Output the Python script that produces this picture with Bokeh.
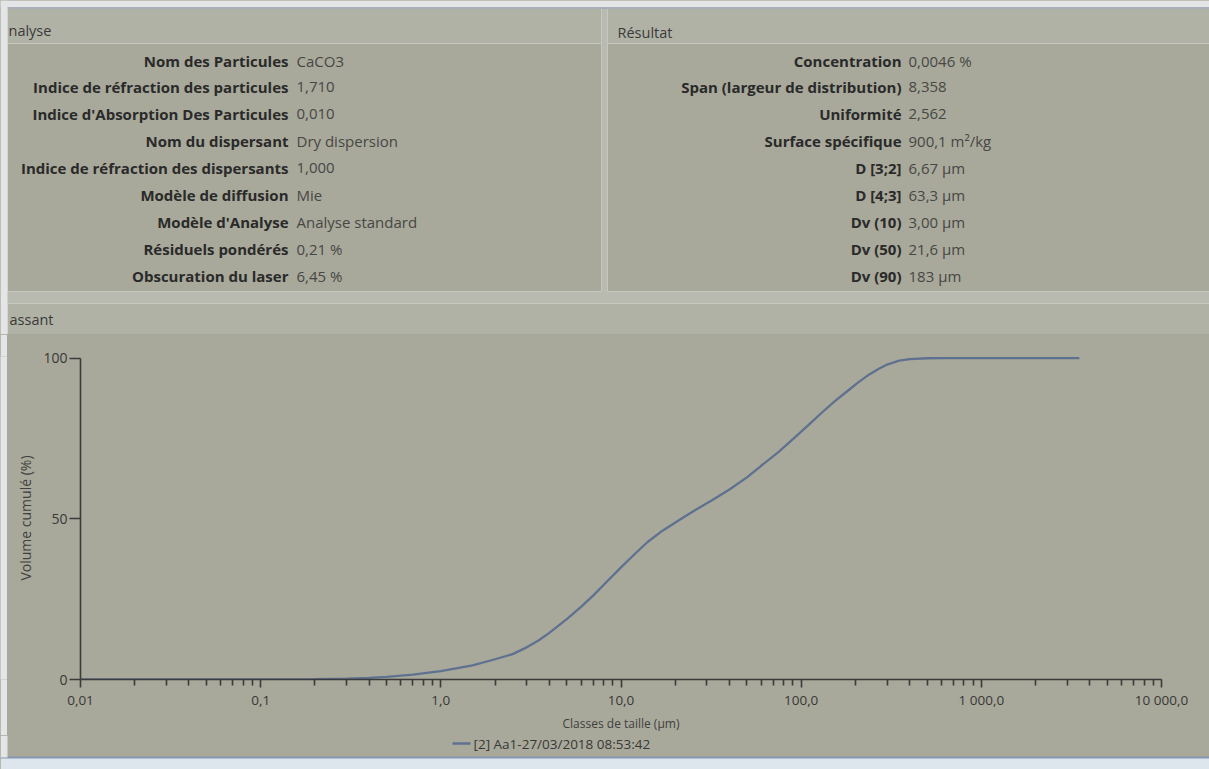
import json
import math

from bokeh.core.properties import value
from bokeh.embed import file_html
from bokeh.layouts import column, row
from bokeh.models import CustomJSTickFormatter, FixedTicker, Range1d
from bokeh.plotting import figure
from bokeh.resources import INLINE

FONT = "Open Sans"

# ---- measurement parameters ("Analyse" panel) ----
analyse_labels = [
    "Nom des Particules",
    "Indice de réfraction des particules",
    "Indice d'Absorption Des Particules",
    "Nom du dispersant",
    "Indice de réfraction des dispersants",
    "Modèle de diffusion",
    "Modèle d'Analyse",
    "Résiduels pondérés",
    "Obscuration du laser",
]
analyse_values = [
    "CaCO3", "1,710", "0,010", "Dry dispersion", "1,000",
    "Mie", "Analyse standard", "0,21 %", "6,45 %",
]

# ---- results ("Résultat" panel) ----
resultat_labels = [
    "Concentration",
    "Span (largeur de distribution)",
    "Uniformité",
    "Surface spécifique",
    "D [3;2]",
    "D [4;3]",
    "Dv (10)",
    "Dv (50)",
    "Dv (90)",
]
resultat_values = [
    "0,0046 %", "8,358", "2,562", "900,1 m²/kg", "6,67 µm",
    "63,3 µm", "3,00 µm", "21,6 µm", "183 µm",
]

# panel captions as they appear on the screen edge
panel_titles = ["nalyse", "Résultat", "assant"]

# ---- cumulative volume curve (passing) ----
sizes_um = [
    0.01, 0.02, 0.05, 0.1, 0.15, 0.2, 0.3, 0.4, 0.5, 0.7,
    1.0, 1.5, 2.0, 2.5, 3.0, 3.5, 4.0, 5.0, 6.0, 7.0,
    8.0, 10.0, 12.0, 14.0, 17.0, 21.6, 26.0, 32.0, 40.0, 50.0,
    60.0, 75.0, 90.0, 110.0, 130.0, 155.0, 183.0, 210.0, 240.0, 270.0,
    300.0, 350.0, 400.0, 500.0, 600.0, 1000.0, 2000.0, 3500.0,
]
volume_pct = [
    0.0, 0.0, 0.0, 0.0, 0.03, 0.08, 0.25, 0.5, 0.8, 1.5,
    2.6, 4.4, 6.3, 7.9, 10.0, 12.2, 14.5, 18.8, 22.6, 26.1,
    29.4, 34.9, 39.2, 42.7, 46.3, 50.0, 52.8, 55.8, 59.1, 62.9,
    66.5, 70.8, 74.8, 79.2, 83.0, 86.8, 90.0, 92.7, 95.0, 96.7,
    98.0, 99.2, 99.7, 99.95, 100.0, 100.0, 100.0, 100.0,
]
series_name = "[2] Aa1-27/03/2018 08:53:42"

x_tick_values = [0.01, 0.1, 1.0, 10.0, 100.0, 1000.0, 10000.0]
x_tick_labels = ["0,01", "0,1", "1,0", "10,0", "100,0", "1 000,0", "10 000,0"]
y_tick_values = [0, 50, 100]

# ---- colours ----
PANEL = "#a8a99a"
HEADER = "#b1b2a6"
GAP = "#b9bab0"
EDGE = "#c6c7be"
PAPER = "#e3e5e6"
INK = "#2a2a2a"
INK_LIGHT = "#474745"
CURVE = "#5f7190"

W = 1209
TOP_H = 334
BOT_H = 34
MID_H = 769 - TOP_H - BOT_H
LEFT_STRIP = 7
FRAME_TOP = 356
FRAME_H = 323
MID_Y0 = TOP_H + MID_H  # page y where the bottom strip starts


def blank(width, height, y_top, y_bottom, bg):
    f = figure(width=width, height=height, output_backend="svg",
               toolbar_location=None, x_range=Range1d(0, width),
               y_range=Range1d(y_bottom, y_top), min_border=0,
               background_fill_color=bg, border_fill_color=bg)
    f.axis.visible = False
    f.grid.visible = False
    f.outline_line_color = None
    return f


# ================= top: two information panels =================
top = blank(W, TOP_H, 0, TOP_H, GAP)

# panel frames
top.quad(left=[LEFT_STRIP, 607], right=[601, W], top=[8, 8], bottom=[43, 43],
         fill_color=HEADER, line_color=EDGE, line_width=1)
top.quad(left=[LEFT_STRIP, 607], right=[601, W], top=[43, 43], bottom=[291, 291],
         fill_color=PANEL, line_color=EDGE, line_width=1)
top.quad(left=[LEFT_STRIP], right=[W], top=[303], bottom=[TOP_H + 2],
         fill_color=HEADER, line_color=EDGE, line_width=1)

# panel titles
top.text(x=[8, 617, 9], y=[30, 32, 319], text=panel_titles,
         text_font=value(FONT), text_font_size="14.5px", text_color="#3a3a3a",
         text_align="left", text_baseline="middle")

row_y = [60 + 26.9 * i for i in range(len(analyse_labels))]

top.text(x=[288] * len(analyse_labels), y=row_y, text=analyse_labels,
         text_font=value(FONT), text_font_size="15px", text_font_style="bold",
         text_color=INK, text_align="right", text_baseline="middle")
top.text(x=[296] * len(analyse_values), y=row_y, text=analyse_values,
         text_font=value(FONT), text_font_size="15px",
         text_color=INK_LIGHT, text_align="left", text_baseline="middle")

top.text(x=[901] * len(resultat_labels), y=row_y, text=resultat_labels,
         text_font=value(FONT), text_font_size="15px", text_font_style="bold",
         text_color=INK, text_align="right", text_baseline="middle")
top.text(x=[908] * len(resultat_values), y=row_y, text=resultat_values,
         text_font=value(FONT), text_font_size="15px",
         text_color=INK_LIGHT, text_align="left", text_baseline="middle")

# paper edges of the screen
top.quad(left=[0], right=[W], top=[0], bottom=[7], fill_color=PAPER, line_color=None)
top.segment(x0=[0], y0=[7.5], x1=[W], y1=[7.5], line_color="#9ea7b2", line_width=1.5)
top.quad(left=[0], right=[LEFT_STRIP], top=[0], bottom=[TOP_H], fill_color=PAPER,
         line_color=None)

# ================= middle: cumulative curve =================
left_edge = blank(LEFT_STRIP, MID_H, 0, MID_H, PAPER)

chart = figure(width=W - LEFT_STRIP, height=MID_H, output_backend="svg",
               toolbar_location=None, x_axis_type="log",
               x_range=Range1d(0.01, 10000), y_range=Range1d(0, 100.5),
               min_border_left=80 - LEFT_STRIP, min_border_right=48,
               min_border_top=FRAME_TOP - TOP_H,
               min_border_bottom=MID_H - (FRAME_TOP - TOP_H) - FRAME_H,
               background_fill_color=PANEL, border_fill_color=PANEL)
chart.grid.visible = False
chart.outline_line_color = None

chart.line(x=sizes_um, y=volume_pct, line_color=CURVE, line_width=2.3)

exp_labels = {str(round(math.log10(v))): lab for v, lab in zip(x_tick_values, x_tick_labels)}
xa = chart.xaxis[0]
xa.ticker = FixedTicker(
    ticks=x_tick_values,
    minor_ticks=[k * 10.0 ** e for e in range(-2, 4) for k in range(2, 10)],
)
xa.formatter = CustomJSTickFormatter(
    code="const m = %s; return m[String(Math.round(Math.log10(tick)))] || '';"
    % json.dumps(exp_labels)
)
xa.axis_label = "Classes de taille (µm)"

ya = chart.yaxis[0]
ya.ticker = FixedTicker(ticks=y_tick_values, minor_ticks=[])
ya.bounds = (0, 100)
ya.axis_label = "Volume cumulé (%)"

for ax in (xa, ya):
    ax.axis_line_color = "#3b3b3b"
    ax.axis_line_width = 1.6
    ax.major_tick_line_color = "#3b3b3b"
    ax.major_tick_line_width = 1.6
    ax.minor_tick_line_color = "#3b3b3b"
    ax.minor_tick_line_width = 1.6
    ax.major_tick_in = 0
    ax.minor_tick_in = 0
    ax.major_label_text_font = FONT
    ax.major_label_text_color = "#383838"
    ax.axis_label_text_font = FONT
    ax.axis_label_text_font_style = "normal"
    ax.axis_label_text_color = "#404040"

xa.major_label_text_font_size = "13.5px"
xa.axis_label_text_font_size = "12px"
xa.major_tick_out = 8
xa.minor_tick_out = 6
xa.major_label_standoff = 3
xa.axis_label_standoff = 3
ya.major_label_text_font_size = "14px"
ya.axis_label_text_font_size = "14px"
ya.major_tick_out = 11
ya.major_label_standoff = 2
ya.axis_label_standoff = 5

# ================= bottom: series key and screen edge =================
bottom = blank(W, BOT_H, 0, BOT_H, PANEL)
key_y = 743 - MID_Y0
bottom.segment(x0=[452], y0=[key_y], x1=[470], y1=[key_y],
               line_color=CURVE, line_width=2.3)
bottom.text(x=[473], y=[key_y], text=[series_name], text_font=value(FONT),
            text_font_size="13.5px", text_color="#383838", text_align="left",
            text_baseline="middle")
edge_y = 757 - MID_Y0
bottom.quad(left=[0], right=[W], top=[edge_y], bottom=[BOT_H],
            fill_color="#dde5ed", line_color=None)
bottom.segment(x0=[0], y0=[edge_y], x1=[W], y1=[edge_y],
               line_color="#8797b3", line_width=2)
bottom.quad(left=[0], right=[LEFT_STRIP], top=[0], bottom=[edge_y], fill_color=PAPER,
            line_color=None)

layout = column(
    top,
    row(left_edge, chart, spacing=0, styles={"background-color": PANEL}),
    bottom,
    spacing=0,
    styles={"background-color": PANEL},
)

open("out.html", "w").write(file_html(layout, INLINE))
